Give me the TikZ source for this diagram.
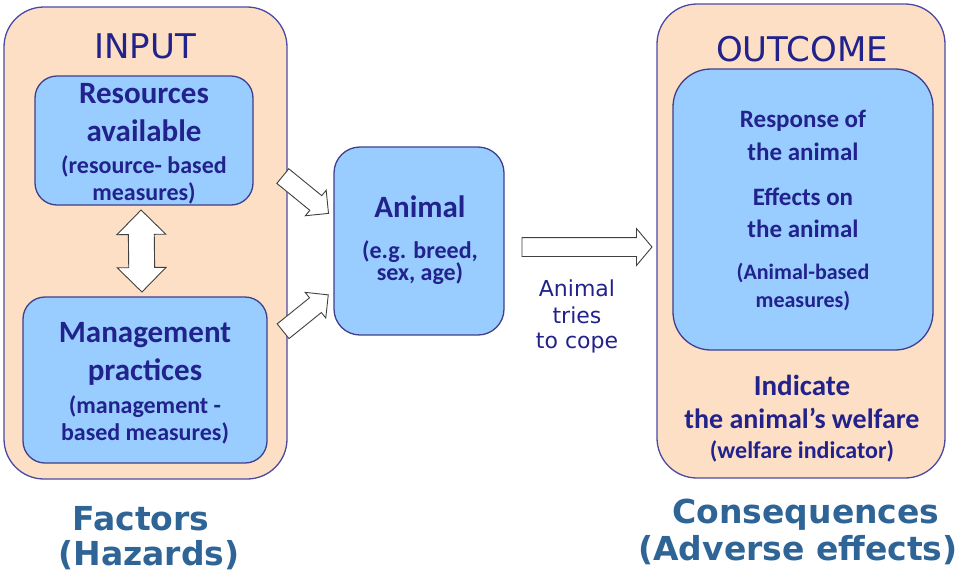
\documentclass[tikz,border=0pt]{standalone}
\usepackage{fontspec}
\usetikzlibrary{shapes.arrows,calc}
\newfontfamily\carlito{Carlito}
\newfontfamily\verdsans{DejaVu Sans}
\definecolor{peach}{HTML}{FDDFC5}
\definecolor{skyfill}{HTML}{99CCFF}
\definecolor{navy}{HTML}{22228C}
\definecolor{frameblue}{HTML}{4A4AA6}
\definecolor{steel}{HTML}{2E6496}
\tikzset{
  outer/.style={draw=frameblue, fill=peach, line width=1.3pt, rounded corners=40pt, inner sep=0pt},
  inner/.style={draw=frameblue!85!black, fill=skyfill, line width=1.3pt, rounded corners=#1, inner sep=0pt},
  inner/.default=22pt,
  blockarrow/.style={single arrow, draw=black!75, fill=white, line width=0.9pt,
    inner xsep=0pt, inner ysep=9pt, single arrow head extend=7pt, single arrow tip angle=90},
  dblarrow/.style={double arrow, draw=black!75, fill=white, line width=0.9pt,
    inner xsep=0pt, inner ysep=12.5pt, double arrow head extend=11.5pt, double arrow tip angle=90},
  txt/.style={anchor=base, inner sep=0pt, text=navy},
  ttl/.style={txt, font=\verdsans\fontsize{34}{40}\selectfont},
  bigl/.style={txt, font=\carlito\bfseries\fontsize{31}{37}\selectfont},
  smalll/.style={txt, font=\carlito\bfseries\fontsize{24}{28}\selectfont},
  cope/.style={txt, font=\verdsans\fontsize{22}{27}\selectfont},
  foot/.style={txt, text=steel, font=\verdsans\bfseries\fontsize{33}{40}\selectfont}
}
\begin{document}
\begin{tikzpicture}[x=1pt,y=-1pt]
\useasboundingbox (0,0) rectangle (966,576);
% frames
\node[outer, minimum width=283pt, minimum height=472pt] (IN) at (145.5,243) {};
\node[outer, minimum width=288pt, minimum height=474pt] (OUT) at (801,241) {};
\node[inner, minimum width=218pt, minimum height=129pt] (RES) at (144,140.5) {};
\node[inner, minimum width=244pt, minimum height=166pt] (MAN) at (145,380) {};
\node[inner=26pt, minimum width=170pt, minimum height=188pt] (ANI) at (419,241) {};
\node[inner=38pt, minimum width=260pt, minimum height=281pt] (RESP) at (803,209.5) {};
% block arrows
\path ([xshift=-3pt]RES.south) -- ([xshift=-3pt]MAN.north)
  node[dblarrow, midway, sloped, minimum height=82pt] (AR0) {};
\path ($(RES.east)+(26,33)$) -- ($(ANI.west)+(-9,-31)$)
  node[blockarrow, midway, sloped, minimum height=59pt] (AR1) {};
\path ($(MAN.east)+(12,-46)$) -- ($(ANI.west)+(-9,57)$)
  node[blockarrow, midway, sloped, minimum height=58pt] (AR2) {};
\path ($(ANI.east)+(14,6)$) -- ($(OUT.west)+(-9,6)$)
  node[blockarrow, midway, single arrow head extend=9pt,
    single arrow tip angle=100, minimum height=130pt] (AR3) {};
% texts
\node[ttl] (T1) at (145,58) {INPUT};
\node[ttl] (T2) at (802,61) {OUTCOME};
\node[bigl] (R1) at (144,103) {Resources};
\node[bigl] (R2) at (144,141) {available};
\node[smalll] (R3) at (144,173) {(resource- based};
\node[smalll] (R4) at (144,200) {measures)};
\node[bigl] (M1) at (145,342) {Management};
\node[bigl] (M2) at (145,380) {practices};
\node[smalll] (M3) at (145,413) {(management -};
\node[smalll] (M4) at (145,440) {based measures)};
\node[bigl] (A1) at (420,217) {Animal};
\node[smalll] (A2) at (420,258) {(e.g. breed,};
\node[smalll] (A3) at (420,280) {sex, age)};
\node[cope] (C1) at (577,296) {Animal};
\node[cope] (C2) at (577,323) {tries};
\node[cope] (C3) at (577,348) {to cope};
\node[txt, font=\carlito\bfseries\fontsize{25}{30}\selectfont] (O1) at (803,127) {Response of};
\node[txt, font=\carlito\bfseries\fontsize{25}{30}\selectfont] (O2) at (803,160) {the animal};
\node[txt, font=\carlito\bfseries\fontsize{25}{30}\selectfont] (O3) at (803,205) {Effects on};
\node[txt, font=\carlito\bfseries\fontsize{25}{30}\selectfont] (O4) at (803,237) {the animal};
\node[txt, font=\carlito\bfseries\fontsize{22}{26}\selectfont] (O5) at (803,279) {(Animal-based};
\node[txt, font=\carlito\bfseries\fontsize{22}{26}\selectfont] (O6) at (803,307) {measures)};
\node[txt, font=\carlito\bfseries\fontsize{29}{34}\selectfont] (W1) at (802,395) {Indicate};
\node[txt, font=\carlito\bfseries\fontsize{28}{33}\selectfont] (W2) at (802,428) {the animal’s welfare};
\node[txt, font=\carlito\bfseries\fontsize{24}{28}\selectfont] (W3) at (802,458) {(welfare indicator)};
\node[foot] (F1) at (141,530) {Factors};
\node[foot] (F2) at (149,565) {(Hazards)};
\node[foot] (Q1) at (806,523) {Consequences};
\node[foot] (Q2) at (798,560) {(Adverse effects)};
\end{tikzpicture}
\end{document}
